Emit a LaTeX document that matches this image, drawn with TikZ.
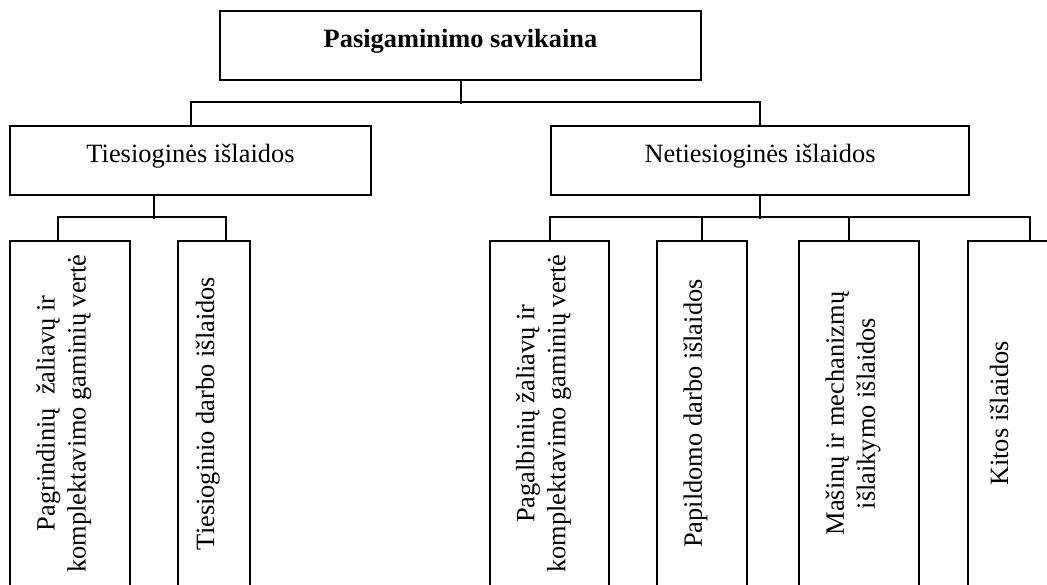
\documentclass[tikz,border=0pt]{standalone}
\usepackage{fontspec}
\setmainfont{Liberation Serif}
\usetikzlibrary{calc}

\begin{document}
\begin{tikzpicture}[x=0.5pt,y=-0.5pt,line width=1pt,
	box/.style={draw,inner sep=0pt,text height=10pt,text depth=8.5pt,minimum height=34.5pt},
	leaf/.style={draw,inner sep=0pt,rotate=90,align=center,text depth=9pt,minimum width=172.5pt}]
	\fontsize{13.2}{15.5}\selectfont
	\clip (0,0) rectangle (1047,584);

	% Top and middle boxes
	\node[box,minimum width=240.5pt] (P) at (460.5,45.5) {\textbf{Pasigaminimo savikaina}};
	\node[box,minimum width=180.5pt] (T) at (190.5,160.5) {Tiesioginės išlaidos};
	\node[box,minimum width=209.3pt] (N) at (760,160.5) {Netiesioginės išlaidos};

	% The upright boxes (east is their top side)
	\node[leaf,minimum height=60pt] (T1) at (70,413.5) {Pagrindinių~ žaliavų ir\\komplektavimo gaminių vertė};
	\node[leaf,minimum height=36pt] (T2) at (214,413.5) {Tiesioginio darbo išlaidos};
	\node[leaf,minimum height=59.7pt] (N1) at (549.7,413.5) {Pagalbinių žaliavų ir\\komplektavimo gaminių vertė};
	\node[leaf,minimum height=44.8pt] (N2) at (701.8,413.5) {Papildomo darbo išlaidos};
	\node[leaf,minimum height=59.8pt] (N3) at (859.2,413.5) {Mašinų ir mechanizmų\\išlaikymo išlaidos};
	\node[leaf,minimum height=40pt] (N4) at (1008,413.5) {Kitos išlaidos};

	% Lines between the levels
	\draw (P.south) -- ++(0,23);
	\draw (T.north) -- ++(0,-23) -| (N.north);

	\draw ($(T.south)+(-36.5,0)$) -- ++(0,23);
	\draw ($(T1.east)+(-12,0)$) -- ++(0,-23) -| ($(T2.east)+(12,0)$);

	\draw (N.south) -- ++(0,23);
	\draw (N1.east) -- ++(0,-23) -| ($(N4.east)+(22,0)$);
	\draw (N2.east) -- ++(0,-23);
	\draw ($(N3.east)+(-10,0)$) -- ++(0,-23);

\end{tikzpicture}
\end{document}
